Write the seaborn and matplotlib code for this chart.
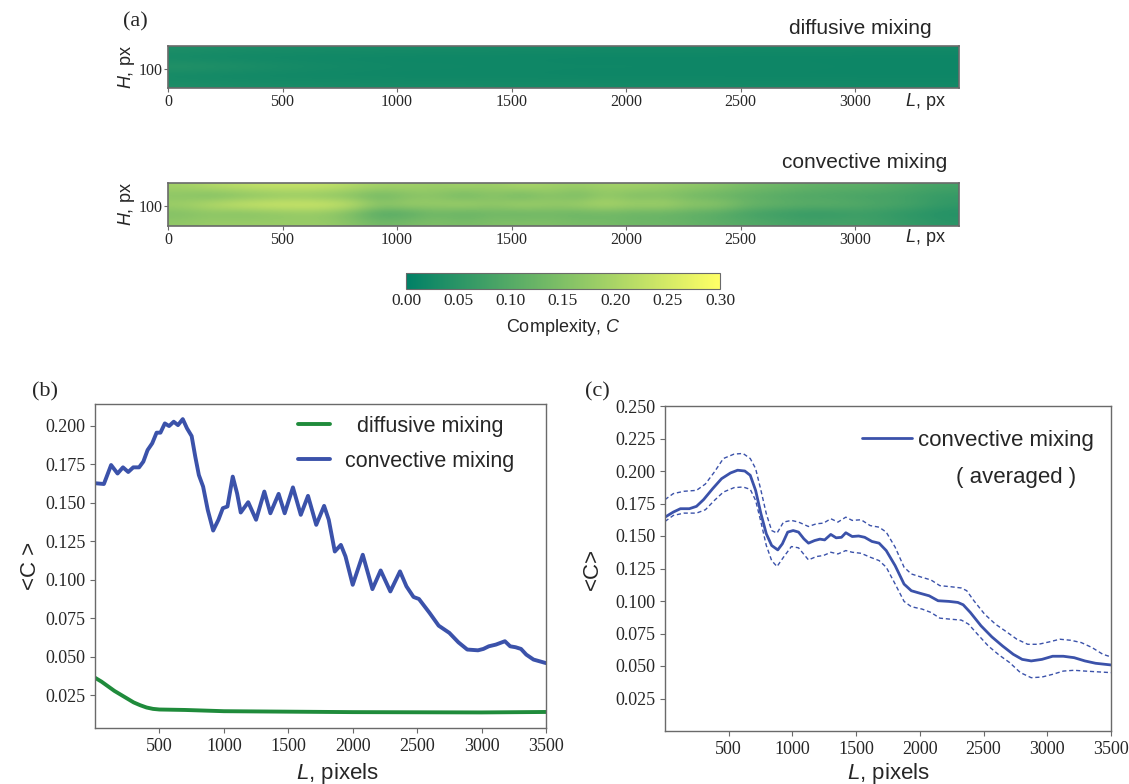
import numpy as np
import matplotlib
matplotlib.use("Agg")
import matplotlib.pyplot as plt
import seaborn as sns

# ---- data ------------------------------------------------------------------
# strip maps (a): rows = H bands (top -> bottom), columns = L cells 0..3450 px
conv_map = [
    [.19, .21, .22, .23, .23, .23, .21, .19, .19, .18, .19, .18, .20, .19, .18, .19, .19, .18, .17, .16, .14, .13, .12, .11, .11, .10, .09, .08],
    [.16, .14, .15, .16, .17, .16, .15, .12, .15, .16, .12, .16, .12, .16, .13, .17, .14, .15, .13, .12, .11, .10, .09, .09, .08, .08, .07, .06],
    [.19, .22, .24, .25, .25, .25, .23, .17, .19, .18, .20, .17, .20, .18, .19, .21, .19, .20, .17, .17, .13, .12, .11, .11, .10, .09, .08, .06],
    [.15, .16, .15, .16, .17, .17, .14, .09, .10, .13, .11, .13, .12, .13, .12, .13, .12, .12, .11, .10, .08, .07, .06, .06, .07, .06, .05, .04],
    [.17, .18, .18, .18, .18, .18, .16, .13, .14, .15, .14, .15, .15, .15, .14, .14, .13, .13, .12, .11, .10, .09, .08, .08, .08, .07, .06, .05],
]
diff_map = [
    [.035, .033, .031, .030, .029, .028, .028, .027, .027, .026, .026, .025, .025, .025, .025, .024, .024, .024, .024, .024, .023, .023, .023, .023, .022, .022, .022, .022],
    [.022, .020, .019, .018, .018, .017, .017, .017, .016, .016, .016, .016, .016, .016, .015, .015, .015, .015, .015, .015, .015, .015, .015, .015, .015, .015, .015, .015],
    [.045, .042, .038, .033, .029, .026, .024, .022, .021, .021, .020, .020, .020, .019, .019, .019, .019, .018, .018, .018, .018, .018, .018, .017, .017, .017, .017, .017],
    [.022, .020, .019, .018, .018, .017, .017, .017, .016, .016, .016, .016, .016, .016, .015, .015, .015, .015, .015, .015, .015, .015, .015, .015, .015, .015, .015, .015],
    [.033, .031, .030, .029, .028, .028, .027, .027, .026, .026, .026, .025, .025, .025, .025, .024, .024, .024, .024, .024, .023, .023, .023, .023, .022, .022, .022, .022],
]
cbar_ticks = [0.00, 0.05, 0.10, 0.15, 0.20, 0.25, 0.30]
strip_xticks = [0, 500, 1000, 1500, 2000, 2500, 3000]

# (b) raw profiles
conv_b_x = [0, 69, 125, 175, 217, 258, 297, 342, 375, 408,
            444, 478, 508, 542, 575, 611, 644, 681, 714, 750,
            778, 806, 839, 875, 917, 958, 992, 1028, 1069, 1103,
            1131, 1189, 1250, 1314, 1361, 1425, 1472, 1536, 1597, 1653,
            1717, 1778, 1814, 1861, 1908, 1944, 2000, 2078, 2153, 2217,
            2292, 2367, 2417, 2472, 2514, 2597, 2667, 2750, 2820, 2889,
            2972, 3014, 3056, 3111, 3181, 3222, 3264, 3306, 3347, 3403, 3500]
conv_b_y = [0.1627, 0.1622, 0.1745, 0.169, 0.173, 0.170, 0.173, 0.173, 0.1767, 0.1842,
            0.1886, 0.1955, 0.1955, 0.2015, 0.1998, 0.2026, 0.2004, 0.2043, 0.1983, 0.1933,
            0.180, 0.168, 0.1605, 0.1454, 0.132, 0.139, 0.1465, 0.1476, 0.167, 0.156,
            0.1437, 0.1504, 0.139, 0.1573, 0.1432, 0.1558, 0.1432, 0.160, 0.1422, 0.1545,
            0.1357, 0.148, 0.139, 0.1184, 0.1227, 0.1152, 0.0968, 0.1163, 0.094, 0.1061,
            0.0925, 0.1055, 0.0958, 0.0889, 0.0876, 0.0785, 0.0703, 0.0656, 0.0595, 0.0548,
            0.0543, 0.0552, 0.0569, 0.058, 0.0602, 0.0569, 0.0563, 0.0552, 0.0515, 0.0483, 0.046]
diff_b_x = [0, 50, 100, 150, 200, 250, 300, 350, 400, 450, 500, 700, 1000, 1500, 2000, 2500, 3000, 3500]
diff_b_y = [0.0365, 0.034, 0.031, 0.028, 0.0255, 0.023, 0.0205, 0.0187, 0.0172, 0.0163,
            0.0159, 0.0156, 0.0148, 0.0145, 0.0142, 0.0141, 0.014, 0.0143]

# (c) averaged profile with its upper / lower bounds
avg_x = [0, 65, 121, 191, 247, 303, 374, 444, 514, 570,
         626, 669, 711, 753, 795, 837, 885, 921, 963, 1006,
         1048, 1090, 1126, 1174, 1216, 1253, 1301, 1343, 1385, 1419,
         1469, 1520, 1567, 1624, 1680, 1736, 1806, 1876, 1933, 2003,
         2073, 2143, 2228, 2298, 2340, 2396, 2480, 2565, 2649, 2733,
         2803, 2874, 2958, 3042, 3126, 3211, 3295, 3379, 3500]
avg_y = [0.1645, 0.1684, 0.171, 0.171, 0.1728, 0.178, 0.1864, 0.1941, 0.1985, 0.2006,
         0.200, 0.1967, 0.1851, 0.1671, 0.1517, 0.1427, 0.1393, 0.144, 0.153, 0.1542,
         0.153, 0.1478, 0.1445, 0.1465, 0.1476, 0.147, 0.1512, 0.1486, 0.149, 0.1525,
         0.1496, 0.150, 0.149, 0.1458, 0.1445, 0.1388, 0.1272, 0.113, 0.1079, 0.1059,
         0.104, 0.1002, 0.0997, 0.0989, 0.0971, 0.0912, 0.0809, 0.0724, 0.0654, 0.059,
         0.0551, 0.0539, 0.0551, 0.0575, 0.0575, 0.0564, 0.0539, 0.0521, 0.0508]
up_x = [0, 65, 149, 247, 317, 388, 458, 542, 612, 669,
        711, 753, 795, 837, 879, 930, 992, 1048, 1126, 1188,
        1244, 1301, 1357, 1419, 1469, 1539, 1610, 1680, 1736, 1806,
        1876, 1933, 2017, 2087, 2157, 2241, 2326, 2368, 2424, 2508,
        2593, 2677, 2761, 2846, 2930, 3014, 3098, 3183, 3267, 3351, 3436, 3500]
up_y = [0.178, 0.1826, 0.1844, 0.1851, 0.190, 0.1993, 0.2096, 0.213, 0.2135, 0.2096,
        0.2019, 0.1851, 0.1671, 0.1542, 0.1522, 0.1607, 0.162, 0.1607, 0.1573, 0.1594,
        0.1599, 0.1633, 0.1607, 0.1645, 0.162, 0.1625, 0.158, 0.1568, 0.153, 0.1414,
        0.126, 0.1208, 0.1182, 0.1162, 0.1118, 0.111, 0.110, 0.1079, 0.1002, 0.0899,
        0.0822, 0.0765, 0.0706, 0.0667, 0.0667, 0.0685, 0.0706, 0.0698, 0.068, 0.0642, 0.059, 0.057]
lo_x = [0, 65, 149, 247, 317, 388, 458, 542, 612, 669,
        711, 753, 795, 837, 879, 930, 992, 1048, 1126, 1188,
        1244, 1301, 1357, 1419, 1469, 1539, 1610, 1680, 1736, 1806,
        1876, 1933, 2017, 2087, 2157, 2241, 2326, 2382, 2452, 2537,
        2621, 2705, 2789, 2874, 2958, 3042, 3126, 3211, 3295, 3379, 3500]
lo_y = [0.1612, 0.1658, 0.1676, 0.1676, 0.1702, 0.1774, 0.1838, 0.1872, 0.1877, 0.1859,
        0.1774, 0.1607, 0.1427, 0.1311, 0.1265, 0.1337, 0.1419, 0.1409, 0.1316, 0.1342,
        0.135, 0.1375, 0.1362, 0.1388, 0.1375, 0.1367, 0.1337, 0.1311, 0.126, 0.1131,
        0.0997, 0.0956, 0.0938, 0.0912, 0.0868, 0.086, 0.0853, 0.0822, 0.0745, 0.0654,
        0.0585, 0.0526, 0.0449, 0.041, 0.0415, 0.0436, 0.0461, 0.0467, 0.0461, 0.0456, 0.0449]
b_yticks = [0.025, 0.050, 0.075, 0.100, 0.125, 0.150, 0.175, 0.200]
c_yticks = [0.025, 0.050, 0.075, 0.100, 0.125, 0.150, 0.175, 0.200, 0.225, 0.250]
line_xticks = [500, 1000, 1500, 2000, 2500, 3000, 3500]

# ---- style -------------------------------------------------------------------
sns.set_style("ticks")
plt.rcParams['font.family'] = ['Liberation Sans', 'DejaVu Sans']
plt.rcParams['mathtext.fontset'] = 'custom'
plt.rcParams['mathtext.it'] = 'Liberation Sans:italic'
plt.rcParams['mathtext.rm'] = 'Liberation Sans'
SERIF = 'Liberation Serif'
FRAME = '#6a6a6a'
BLUE = '#3b52aa'
GREEN = '#1f8b3b'
cmap = plt.get_cmap('summer')

fig = plt.figure(figsize=(11.29, 7.84), dpi=100)


def px(x0, y0, x1, y1):
    # pixel box of the reference -> figure fraction
    W, H = 1129, 784
    return [x0 / W, 1 - y1 / H, (x1 - x0) / W, (y1 - y0) / H]


def frame(ax, lw=1.0):
    for s in ax.spines.values():
        s.set_visible(True)
        s.set_color(FRAME)
        s.set_linewidth(lw)


# ---- (a) strips ---------------------------------------------------------------
im = None
for data, box, title, ty in [(diff_map, px(168, 46, 959, 88.3), 'diffusive mixing', 28),
                             (conv_map, px(168, 183, 959, 226), 'convective mixing', 163)]:
    ax = fig.add_axes(box)
    im = ax.imshow(np.array(data), cmap=cmap, vmin=0, vmax=0.3, aspect='auto',
                   interpolation='bicubic', extent=(0, 3453, 185, 0))
    ax.set_xticks(strip_xticks)
    ax.set_yticks([100])
    ax.tick_params(labelfontfamily=SERIF, labelsize=11.5, length=3, width=0.8,
                   color=FRAME, pad=1)
    ax.set_ylabel('$H$, px', fontsize=13, labelpad=1)
    frame(ax, 1.2)
    fig.text((959 if ty == 28 else 947) / 1129, 1 - ty / 784, title, ha='right',
             va='center', fontsize=15)
    yy = 101 if ty == 28 else 237
    fig.text(925 / 1129, 1 - yy / 784, '$L$, px', ha='center', va='center', fontsize=13)

fig.texts[0].set_x(931.7 / 1129)
fig.text(135 / 1129, 1 - 22 / 784, '(a)', family=SERIF, fontsize=16, ha='center', va='center')

cax = fig.add_axes(px(406, 272.7, 720, 289.3))
cb = fig.colorbar(im, cax=cax, orientation='horizontal', ticks=cbar_ticks)
cb.ax.set_xticklabels([f'{t:.2f}' for t in cbar_ticks])
cb.outline.set_edgecolor(FRAME)
cax.tick_params(labelfontfamily=SERIF, labelsize=12.5, length=0, pad=3)
fig.text(563 / 1129, 1 - 327 / 784, 'Complexity, $C$', ha='center', va='center', fontsize=13)

# ---- (b) ----------------------------------------------------------------------
axb = fig.add_axes(px(95, 404, 546, 728))
sns.lineplot(x=diff_b_x, y=diff_b_y, ax=axb, color=GREEN, lw=2.8, label='  diffusive mixing')
sns.lineplot(x=conv_b_x, y=conv_b_y, ax=axb, color=BLUE, lw=2.8, label='convective mixing')
axb.set_xlim(0, 3500)
axb.set_ylim(0.0039, 0.2141)
axb.set_xticks(line_xticks)
axb.set_yticks(b_yticks)
axb.set_yticklabels([f'{t:.3f}' for t in b_yticks])
axb.tick_params(labelfontfamily=SERIF, labelsize=13, length=3.5, width=0.8, color=FRAME)
frame(axb)
axb.set_xlabel('$L$, pixels', fontsize=16)
axb.set_ylabel('<C >', fontsize=16)
axb.xaxis.set_label_coords((337 - 95) / 451, (728 - 773) / 324)
axb.xaxis.label.set_va('center')
axb.yaxis.set_label_coords((30 - 95) / 451, 0.5)
axb.yaxis.label.set_va('center')
axb.legend(loc='upper left', bbox_to_anchor=(298 / 1129, 1 - 416 / 784),
           bbox_transform=fig.transFigure, frameon=False, fontsize=15.5,
           borderpad=0, borderaxespad=0, handlelength=1.5, handletextpad=0.7,
           labelspacing=0.65)
fig.text(45 / 1129, 1 - 392 / 784, '(b)', family=SERIF, fontsize=16, ha='center', va='center')

# ---- (c) ----------------------------------------------------------------------
axc = fig.add_axes(px(665, 406, 1111, 731))
sns.lineplot(x=up_x, y=up_y, ax=axc, color=BLUE, lw=1.0, dashes=False, linestyle=(0, (3, 2)))
sns.lineplot(x=lo_x, y=lo_y, ax=axc, color=BLUE, lw=1.0, dashes=False, linestyle=(0, (3, 2)))
sns.lineplot(x=avg_x, y=avg_y, ax=axc, color=BLUE, lw=2.0, label='convective mixing')
axc.set_xlim(0, 3500)
axc.set_ylim(0, 0.25)
axc.set_xticks(line_xticks)
axc.set_yticks(c_yticks)
axc.set_yticklabels([f'{t:.3f}' for t in c_yticks])
axc.tick_params(labelfontfamily=SERIF, labelsize=13, length=3.5, width=0.8, color=FRAME)
frame(axc)
axc.set_xlabel('$L$, pixels', fontsize=16)
axc.set_ylabel('<C>', fontsize=16)
axc.xaxis.set_label_coords(0.5, (731 - 773) / 325)
axc.xaxis.label.set_va('center')
axc.yaxis.set_label_coords((592 - 665) / 446, 0.5)
axc.yaxis.label.set_va('center')
axc.legend(loc='upper left', bbox_to_anchor=(862 / 1129, 1 - 430 / 784),
           bbox_transform=fig.transFigure, frameon=False, fontsize=16,
           borderpad=0, borderaxespad=0, handlelength=2.25, handletextpad=0.25)
fig.text(1016 / 1129, 1 - 477 / 784, '( averaged )', ha='center', va='center', fontsize=16)
fig.text(597 / 1129, 1 - 392 / 784, '(c)', family=SERIF, fontsize=16, ha='center', va='center')

fig.savefig('out.png', dpi=100)
